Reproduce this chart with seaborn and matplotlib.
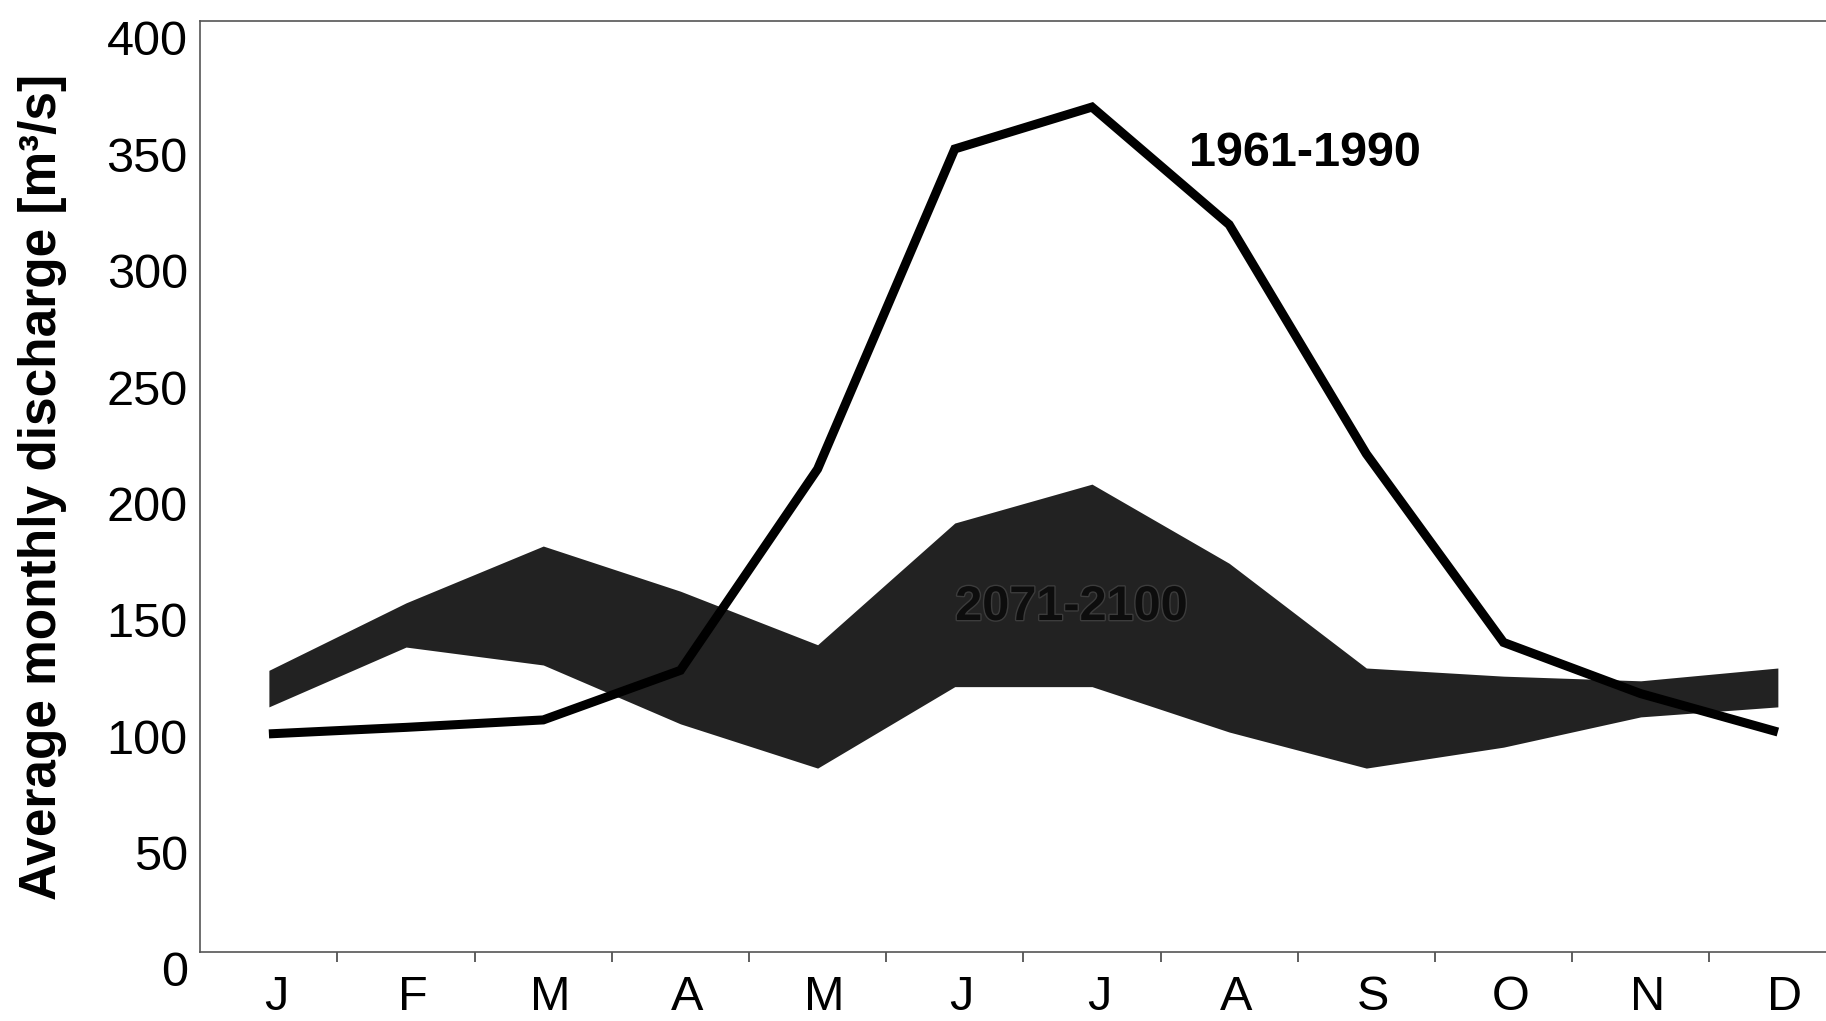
import numpy as np
import pandas as pd
import matplotlib
matplotlib.use('Agg')
import matplotlib.pyplot as plt
import matplotlib.transforms as mtransforms
import matplotlib.patheffects as pe
import seaborn as sns

# monthly discharge [m3/s]
months = ['J', 'F', 'M', 'A', 'M', 'J', 'J', 'A', 'S', 'O', 'N', 'D']
q_1961_1990 = [93.7, 96.5, 99.7, 121, 207.5, 345, 363, 312.5, 214, 133, 111, 94.5]
q_2071_low = [105.3, 131, 123.3, 98, 79, 114, 114, 94.5, 79, 88, 101, 105.3]
q_2071_high = [121, 150, 174.4, 155, 132, 184.3, 201, 167, 122, 118.5, 116.5, 122]
yticks = [0, 50, 100, 150, 200, 250, 300, 350, 400]

sns.set_theme(style='white')
plt.rcParams['font.family'] = ['Liberation Sans', 'DejaVu Sans']

fig = plt.figure(figsize=(18.26, 10.21), dpi=100)
ax = fig.add_axes([0.1097, 0.0676, 0.9015, 0.9119])

x = np.arange(len(months))

# 2071-2100 range as a filled band
ax.fill_between(x, q_2071_low, q_2071_high, color='#222222', lw=0, zorder=1)

# 1961-1990 mean line
df = pd.DataFrame({'month': x, 'q': q_1961_1990})
sns.lineplot(data=df, x='month', y='q', color='black', lw=6.5, ax=ax,
             solid_joinstyle='miter', solid_capstyle='butt', zorder=3)

ax.set_xlim(-0.5, 11.5)
ax.set_ylim(0, 400)

# tick marks between months, labels centred on months
ax.set_xticks(x[:-1] + 0.5)
ax.set_xticklabels([])
ax.set_xticks(x, minor=True)
ax.set_xticklabels(months, minor=True)
ax.tick_params(axis='x', which='major', direction='out', bottom=True,
               length=7, width=1.2, color='#444444')
ax.tick_params(axis='x', which='minor', bottom=True, length=0, pad=16.5,
               labelsize=35, labelcolor='black')

ax.set_yticks(yticks)
ax.tick_params(axis='y', left=False, length=0, pad=9, labelsize=35,
               labelcolor='black')

# y labels sit a bit below their ticks in the original, month labels a bit right
offset_y = mtransforms.ScaledTranslation(0, -17 / 100, fig.dpi_scale_trans)
for lab in ax.get_yticklabels():
    lab.set_transform(lab.get_transform() + offset_y)
offset_x = mtransforms.ScaledTranslation(7 / 100, 0, fig.dpi_scale_trans)
for lab in ax.get_xticklabels(minor=True):
    lab.set_transform(lab.get_transform() + offset_x)

ax.set_xlabel('')
ax.set_ylabel('Average monthly discharge [m³/s]', fontsize=37,
              fontweight='bold', color='black')
ax.yaxis.set_label_coords(-0.081, 0.5)

for side in ['left', 'bottom', 'top']:
    ax.spines[side].set_color('#555555')
    ax.spines[side].set_linewidth(1.2)
ax.spines['right'].set_visible(False)

ax.text(7.55, 343, '1961-1990', fontsize=35, fontweight='bold',
        ha='center', va='center', color='black', zorder=4)
ax.text(5.85, 148, '2071-2100', fontsize=35, fontweight='bold',
        ha='center', va='center', color='#0d0d0d', zorder=4,
        path_effects=[pe.withStroke(linewidth=2, foreground='#3c3c3c')])

fig.savefig('out.png', dpi=100)
